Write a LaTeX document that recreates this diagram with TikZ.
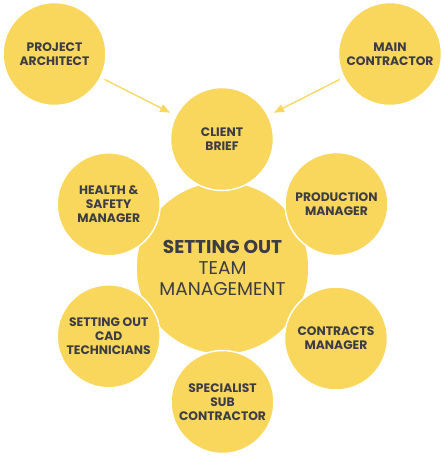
\documentclass[tikz,border=0pt]{standalone}
\usepackage{fontspec}
\setmainfont{Poppins}
\usetikzlibrary{arrows.meta}
\definecolor{sun}{HTML}{F9D65C}
\definecolor{ink}{HTML}{3C3C46}
\begin{document}
\begin{tikzpicture}[x=1pt,y=-1pt,
  bubble/.style={circle, fill=sun, draw=white, line width=1.5pt, minimum size=103pt, inner sep=0pt,
    align=center, text=ink, font=\fontsize{12.3}{14}\selectfont\bfseries},
  hub/.style={circle, fill=sun, draw=white, line width=1.5pt, minimum size=173pt, inner sep=0pt,
    align=center, text=ink, font=\fontsize{18.5}{21}\selectfont},
  feed/.style={draw=sun, line width=1.3pt, -{Triangle[length=10pt,width=8pt]}, shorten <=4pt, shorten >=6pt}]
\useasboundingbox (0,0) rectangle (444,456);
\node[hub] (hub) at (222.5,268) {\textbf{SETTING OUT}\\TEAM\\MANAGEMENT};
\node[bubble] (pa) at (54.5,54) {PROJECT\\ARCHITECT};
\node[bubble] (mc) at (390,54) {MAIN\\CONTRACTOR};
\node[bubble] (cb) at (222,139) {CLIENT\\BRIEF};
\node[bubble] (hs) at (108.7,204.3) {HEALTH \&\\SAFETY\\MANAGER};
\node[bubble] (pm) at (336.5,204) {PRODUCTION\\MANAGER};
\node[bubble] (cad) at (108.7,336.3) {SETTING OUT\\CAD\\TECHNICIANS};
\node[bubble] (cm) at (336,338.5) {CONTRACTS\\MANAGER};
\node[bubble] (ss) at (222.5,402) {SPECIALIST\\SUB\\CONTRACTOR};
\draw[feed] (pa) -- (cb);
\draw[feed] (mc) -- (cb);
\end{tikzpicture}
\end{document}
